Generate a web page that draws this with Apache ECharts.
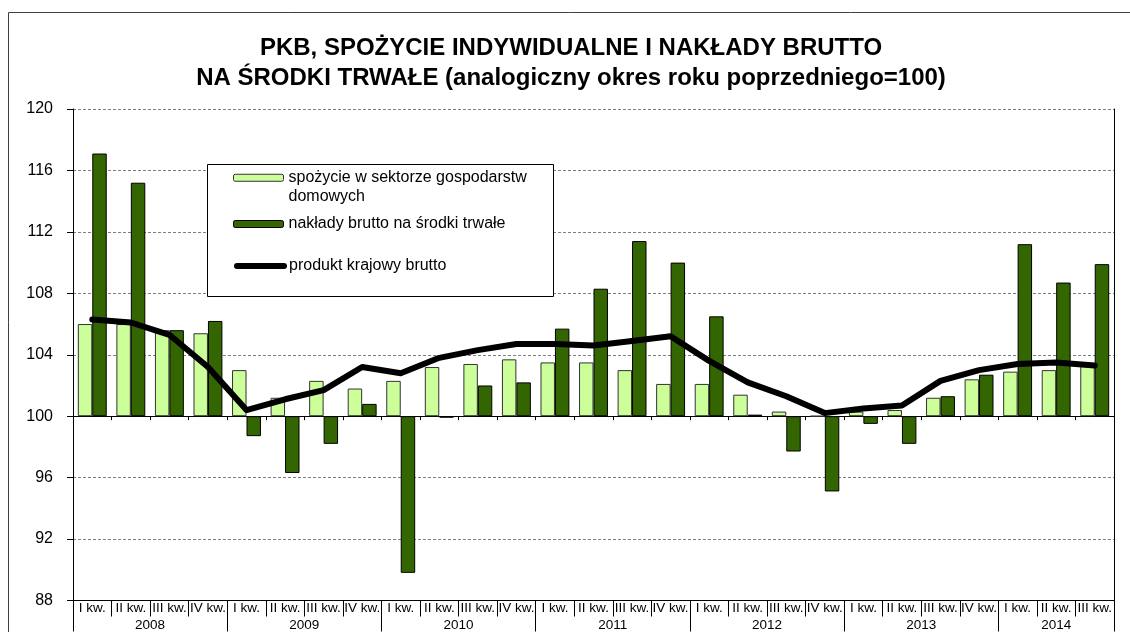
<!DOCTYPE html>
<html>
<head>
<meta charset="utf-8">
<script src="https://cdn.jsdelivr.net/npm/echarts@6/dist/echarts.min.js"></script>
<style>
  html, body { margin: 0; padding: 0; background: #fff; }
  #chart { width: 1130px; height: 632px; }
</style>
</head>
<body>
<div id="chart"></div>
<script>
// Quarterly indices, same period of previous year = 100
const years = ['2008', '2009', '2010', '2011', '2012', '2013', '2014'];
const quartersPerYear = [4, 4, 4, 4, 4, 4, 3];
const quarterNames = ['I kw.', 'II kw.', 'III kw.', 'IV kw.'];

const consumption = [
  106.0, 106.0, 105.6, 105.4,
  103.0, 101.2, 102.3, 101.8,
  102.3, 103.2, 103.4, 103.7,
  103.5, 103.5, 103.0, 102.1,
  102.1, 101.4, 100.3, 100.0,
  100.3, 100.4, 101.2, 102.4,
  102.9, 103.0, 103.3
];
const investment = [
  117.1, 115.2, 105.6, 106.2,
  98.7, 96.3, 98.2, 100.8,
  89.8, 99.9, 102.0, 102.2,
  105.7, 108.3, 111.4, 110.0,
  106.5, 100.1, 97.7, 95.1,
  99.5, 98.2, 101.3, 102.7,
  111.2, 108.7, 109.9
];
const gdp = [
  106.3, 106.1, 105.3, 103.2,
  100.4, 101.1, 101.7, 103.2,
  102.8, 103.8, 104.3, 104.7,
  104.7, 104.6, 104.9, 105.2,
  103.6, 102.2, 101.3, 100.2,
  100.5, 100.7, 102.3, 103.0,
  103.4, 103.5, 103.3
];

const seriesNames = [
  'spożycie w sektorze gospodarstw domowych',
  'nakłady brutto na środki trwałe',
  'produkt krajowy brutto'
];

const BASE = 100;          // bars grow from the 100 line
const Y_MIN = 88, Y_MAX = 120, Y_STEP = 4;

// quarter categories and the year row (half-quarter grid so year names sit mid-span)
const quarters = [];
const yearStarts = [];
years.forEach((y, i) => {
  yearStarts.push(quarters.length);
  for (let q = 0; q < quartersPerYear[i]; q++) quarters.push(quarterNames[q]);
});
const N = quarters.length;
const yearLabels = new Array(2 * N + 1).fill('');
const yearBounds = new Set([2 * N]);
years.forEach((y, i) => {
  yearLabels[2 * yearStarts[i] + quartersPerYear[i]] = y;
  yearBounds.add(2 * yearStarts[i]);
});

const rel = arr => arr.map(v => +(v - BASE).toFixed(3));
const FONT = "'Liberation Sans', Arial, sans-serif";

const chart = echarts.init(document.getElementById('chart'), null, { renderer: 'canvas' });
chart.setOption({
  animation: false,
  backgroundColor: '#fff',
  textStyle: { fontFamily: FONT, color: '#000' },
  title: {
    text: 'PKB, SPOŻYCIE INDYWIDUALNE I NAKŁADY BRUTTO\nNA ŚRODKI TRWAŁE (analogiczny okres roku poprzedniego=100)',
    left: 571,
    top: 33,
    padding: 0,
    textAlign: 'center',
    textStyle: { fontFamily: FONT, fontSize: 24, fontWeight: 'bold', lineHeight: 30, color: '#000' }
  },
  graphic: [
    { type: 'rect', z: 0, silent: true,
      shape: { x: 8.5, y: 12.5, width: 1140, height: 640 },
      style: { fill: 'none', stroke: '#404040', lineWidth: 1 } },
    { type: 'rect', z: 1, silent: true,
      shape: { x: 207.5, y: 164.5, width: 346, height: 132 },
      style: { fill: '#fff', stroke: '#000', lineWidth: 1 } }
  ],
  legend: [
    {
      // blank first line keeps the swatch level with the first text line
      data: [seriesNames[0]], left: 233, top: 150, padding: 0, z: 3,
      itemWidth: 50, itemHeight: 7, selectedMode: false,
      formatter: () => '\nspożycie w sektorze gospodarstw\ndomowych',
      itemStyle: { borderWidth: 1, borderColor: '#333' },
      textStyle: { fontFamily: FONT, fontSize: 16, lineHeight: 18.5, color: '#000' }
    },
    {
      data: [seriesNames[1]], left: 233, top: 216, padding: 0, z: 3,
      itemWidth: 50, itemHeight: 7, selectedMode: false,
      itemStyle: { borderWidth: 1, borderColor: '#000' },
      textStyle: { fontFamily: FONT, fontSize: 16, lineHeight: 16, color: '#000' }
    },
    {
      data: [seriesNames[2]], left: 234, top: 258, padding: 0, z: 3,
      itemWidth: 47, itemHeight: 7, selectedMode: false,
      lineStyle: { width: 6, cap: 'round', color: '#000' },
      textStyle: { fontFamily: FONT, fontSize: 16, lineHeight: 16, color: '#000' }
    }
  ],
  grid: { left: 73, right: 16, top: 109, bottom: 31, containLabel: false },
  xAxis: [
    { // axis line on the 100 level with short ticks between quarters
      type: 'category', data: quarters,
      axisLine: { show: true, onZero: true, lineStyle: { color: '#000', width: 1 } },
      axisTick: { show: true, length: 4, interval: 0, lineStyle: { color: '#000' } },
      axisLabel: { show: false },
      splitLine: { show: false }
    },
    { // quarter label row
      type: 'category', data: quarters, position: 'bottom',
      axisLine: { show: true, onZero: false, lineStyle: { color: '#000', width: 1 } },
      axisTick: { show: true, length: 16, interval: 0, lineStyle: { color: '#000' } },
      axisLabel: { interval: 0, fontFamily: FONT, fontSize: 13.5, margin: 1, color: '#000' },
      splitLine: { show: false }
    },
    { // year label row
      type: 'category', data: yearLabels, boundaryGap: false, position: 'bottom',
      axisLine: { show: false, onZero: false },
      axisTick: { show: true, length: 31, interval: i => yearBounds.has(i), lineStyle: { color: '#000' } },
      axisLabel: { interval: 0, fontFamily: FONT, fontSize: 13.5, margin: 17.5, color: '#000' },
      splitLine: { show: false }
    }
  ],
  yAxis: [
    {
      type: 'value', min: Y_MIN - BASE, max: Y_MAX - BASE, interval: Y_STEP,
      axisLine: { show: true, onZero: false, lineStyle: { color: '#000', width: 1 } },
      axisTick: { show: true, length: 6, lineStyle: { color: '#000' } },
      axisLabel: { formatter: v => String(v + BASE), fontFamily: FONT, fontSize: 16, margin: 20, color: '#000' },
      splitLine: { show: true, lineStyle: { color: '#7f7f7f', width: 1, type: [3, 2] } }
    },
    {
      type: 'value', position: 'right', min: Y_MIN - BASE, max: Y_MAX - BASE, interval: Y_STEP,
      axisLine: { show: true, onZero: false, lineStyle: { color: '#000', width: 1 } },
      axisTick: { show: false }, axisLabel: { show: false }, splitLine: { show: false }
    }
  ],
  series: [
    {
      name: seriesNames[0], type: 'bar', data: rel(consumption),
      barGap: '0%', barCategoryGap: '25%',
      itemStyle: { color: '#ccff99', borderColor: '#333', borderWidth: 1 }
    },
    {
      name: seriesNames[1], type: 'bar', data: rel(investment),
      barGap: '0%', barCategoryGap: '25%',
      itemStyle: { color: '#336600', borderColor: '#000', borderWidth: 1 }
    },
    {
      name: seriesNames[2], type: 'line', data: rel(gdp), z: 5,
      symbol: 'none', smooth: false,
      itemStyle: { color: '#000' },
      lineStyle: { color: '#000', width: 6, join: 'round', cap: 'round' }
    }
  ]
});
</script>
</body>
</html>
